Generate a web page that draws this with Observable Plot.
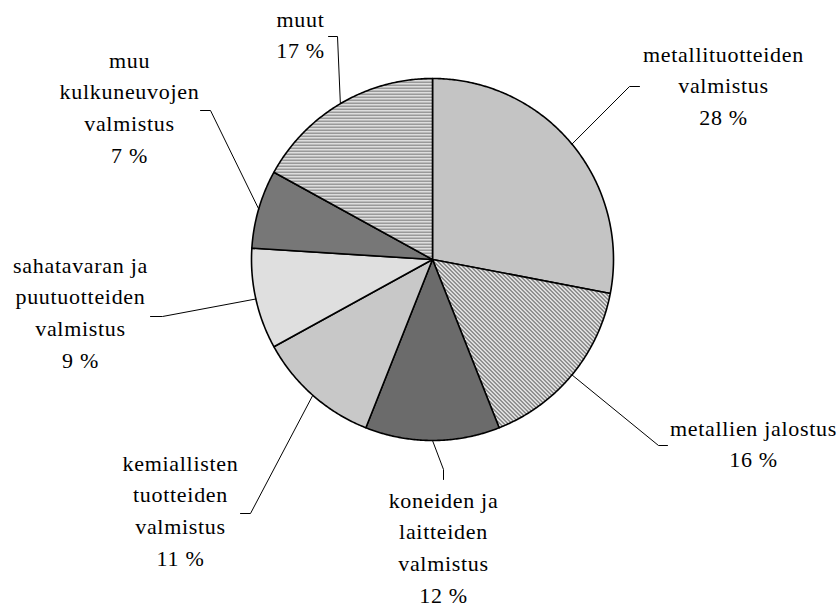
<!DOCTYPE html>
<html>
<head>
<meta charset="utf-8">
<script src="https://cdn.jsdelivr.net/npm/d3@7"></script>
<script src="https://cdn.jsdelivr.net/npm/@observablehq/plot@0.6"></script>
<style>
  body { margin: 0; background: #fff; }
  #chart svg { display: block; }
</style>
</head>
<body>
<div id="chart"></div>
<script>
// ---- data ----
const categories = [
  "metallituotteiden valmistus",
  "metallien jalostus",
  "koneiden ja laitteiden valmistus",
  "kemiallisten tuotteiden valmistus",
  "sahatavaran ja puutuotteiden valmistus",
  "muu kulkuneuvojen valmistus",
  "muut"
];
const shares = [28, 16, 12, 11, 9, 7, 17];
const labelLines = [
  ["metallituotteiden", "valmistus"],
  ["metallien jalostus"],
  ["koneiden ja", "laitteiden", "valmistus"],
  ["kemiallisten", "tuotteiden", "valmistus"],
  ["sahatavaran ja", "puutuotteiden", "valmistus"],
  ["muu", "kulkuneuvojen", "valmistus"],
  ["muut"]
];

// ---- layout (styling, not data) ----
const W = 839, H = 608;
const cx = 432, cy = 259, R = 181;
const patternIds = ["p0", "p1", "p2", "p3", "p4", "p5", "p6"];
// label block: center x, first baseline y
const labelAt = [
  [723, 61], [753, 435], [443, 507], [180, 470], [80, 272], [129, 67], [300, 26]
];
// leader: elbow point, tick end point
const leaderAt = [
  [[629, 86], [639, 86]],
  [[658, 445], [667, 445]],
  [[443, 469], [443, 479]],
  [[250, 513], [240, 513]],
  [[162, 316], [150, 316]],
  [[210, 110], [200, 110]],
  [[337, 36], [328, 36]]
];
const lineStep = 31.8;

// ---- geometry from data ----
const arcs = d3.pie().sort(null).value(d => d).startAngle(0).endAngle(2 * Math.PI)(shares);
const wedgePts = [];
arcs.forEach((a, i) => {
  const n = Math.max(4, Math.ceil((a.endAngle - a.startAngle) / (Math.PI / 360)));
  wedgePts.push({k: i, x: cx, y: cy});
  for (let j = 0; j <= n; j++) {
    const t = a.startAngle + (a.endAngle - a.startAngle) * j / n;
    wedgePts.push({k: i, x: cx + R * Math.sin(t), y: cy - R * Math.cos(t)});
  }
  wedgePts.push({k: i, x: cx, y: cy});
});

const leaderPts = [];
arcs.forEach((a, i) => {
  const t = (a.startAngle + a.endAngle) / 2;
  leaderPts.push({k: i, x: cx + R * Math.sin(t), y: cy - R * Math.cos(t)});
  leaderPts.push({k: i, x: leaderAt[i][0][0], y: leaderAt[i][0][1]});
  leaderPts.push({k: i, x: leaderAt[i][1][0], y: leaderAt[i][1][1]});
});

const textRows = [];
categories.forEach((c, i) => {
  const lines = [...labelLines[i], `${shares[i]} %`];
  lines.forEach((s, j) => {
    textRows.push({x: labelAt[i][0], y: labelAt[i][1] + j * lineStep, text: s});
  });
});

const chart = Plot.plot({
  width: W,
  height: H,
  margin: 0,
  x: {domain: [0, W], range: [0, W], axis: null},
  y: {domain: [0, H], range: [0, H], axis: null},
  color: {type: "identity"},
  style: {background: "#fff"},
  marks: [
    Plot.line(wedgePts, {
      x: "x", y: "y", z: "k",
      fill: d => `url(#${patternIds[d.k]})`,
      stroke: "black", strokeWidth: 1.6, strokeLinejoin: "round", curve: "linear"
    }),
    Plot.line(leaderPts, {x: "x", y: "y", z: "k", stroke: "black", strokeWidth: 1, curve: "linear"}),
    Plot.text(textRows, {
      x: "x", y: "y", text: "text",
      lineAnchor: "bottom", textAnchor: "middle",
      fontSize: 22,
      fill: "black"
    })
  ]
});

// fonts and patterns
const svg = d3.select(chart);
svg.attr("font-family", "Liberation Serif").style("font-family", "Liberation Serif");
svg.selectAll("g").attr("font-family", "Liberation Serif");
svg.selectAll("text")
  .attr("font-family", "Liberation Serif")
  .style("font-family", "Liberation Serif")
  .style("letter-spacing", "0.7px");
const defs = svg.insert("defs", ":first-child");
function pat(id, w, h, cells) {
  const p = defs.append("pattern").attr("id", id).attr("patternUnits", "userSpaceOnUse")
    .attr("width", w).attr("height", h);
  p.append("rect").attr("width", w).attr("height", h).attr("fill", "#fff");
  cells.forEach(([x, y, c, cw = 1, ch = 1]) => {
    p.append("rect").attr("x", x).attr("y", y).attr("width", cw).attr("height", ch).attr("fill", c);
  });
}
pat("p0", 2, 2, [[0, 0, "#888"], [1, 1, "#888"]]);
pat("p1", 4, 4, [[0, 0, "#444"], [1, 1, "#444"], [2, 2, "#444"], [3, 3, "#444"],
                 [1, 0, "#999"], [2, 1, "#999"], [3, 2, "#999"], [0, 3, "#999"]]);
pat("p2", 2, 2, [[1, 0, "#3a3a3a"], [0, 1, "#3a3a3a"], [1, 1, "#3a3a3a"]]);
pat("p3", 2, 2, [[0, 0, "#909090"], [1, 1, "#909090"]]);
pat("p4", 2, 2, [[0, 0, "#808080"]]);
pat("p5", 2, 2, [[0, 0, "#333"], [1, 1, "#333"], [1, 0, "#777"]]);
pat("p6", 1, 3, [[0, 0, "#777"], [0, 1, "#bbb"]]);

document.getElementById("chart").appendChild(chart);
</script>
</body>
</html>
